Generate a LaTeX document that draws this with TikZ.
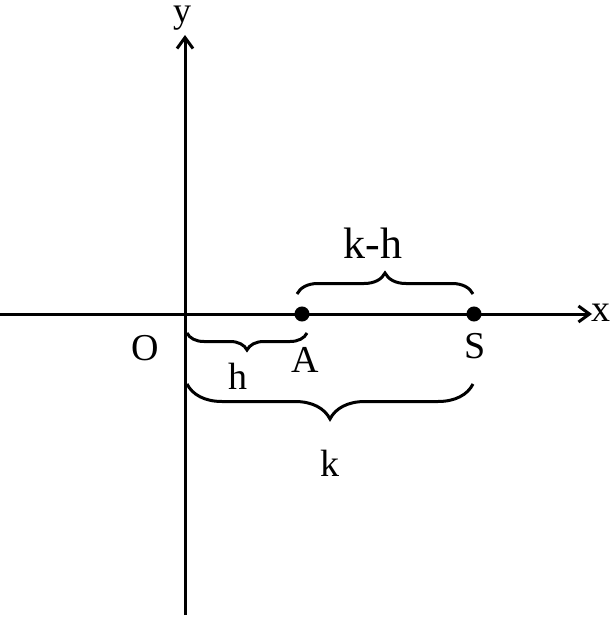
\documentclass[tikz,border=0pt]{standalone}
\usepackage{fontspec}
\setmainfont{Liberation Serif}
\usetikzlibrary{calc}
\usetikzlibrary{arrows.meta}
\usetikzlibrary{decorations.pathreplacing}

\begin{document}
\begin{tikzpicture}  [x=1pt,y=-1pt,line width=3pt,
  lbl/.style={font=\fontsize{38}{44}\selectfont,inner sep=0pt},
  brc/.style={decorate,decoration={brace,amplitude=#1}}]

\useasboundingbox (0,0) rectangle (613,617);

\coordinate (O) at (185,314);
\coordinate (A) at (302,314);
\coordinate (S) at (474,314);
\coordinate (xl) at (0,314);
\coordinate (xr) at (592,314);
\coordinate (yb) at (185,615);
\coordinate (yt) at (185,35);

\draw[-{Straight Barb[length=11pt,width=16pt]}] (xl) -- (xr);
\draw[-{Straight Barb[length=11pt,width=16pt]}] (yb) -- (yt);
\node[lbl,anchor=base,font=\fontsize{36}{42}\selectfont] (ylab) at (182,23) {y};
\node[lbl] (xlab) at (601,313) {x};
\node[lbl] (olab) at (145,348) {O};

\filldraw[black] (A) circle (6pt);
\filldraw[black] (S) circle (6pt);
\node[lbl] (alab) at (305,360) {A};
\node[lbl] (slab) at (475,346) {S};

% braces
\coordinate (kh1) at (297,294);
\coordinate (kh2) at (473,294);
\coordinate (h1) at (187,333);
\coordinate (h2) at (307,333);
\coordinate (k1) at (187,384);
\coordinate (k2) at (473,384);
\draw[brc=21pt] (kh1) -- (kh2);
\draw[brc=17pt] (h2) -- (h1);
\draw[brc=35pt] (k2) -- (k1);
\node[lbl,font=\fontsize{44}{50}\selectfont] (khlab) at (373,243) {k-h};
\node[lbl] (hlab) at (238,376) {h};
\node[lbl] (klab) at (330,463) {k};

\end{tikzpicture}
\end{document}
